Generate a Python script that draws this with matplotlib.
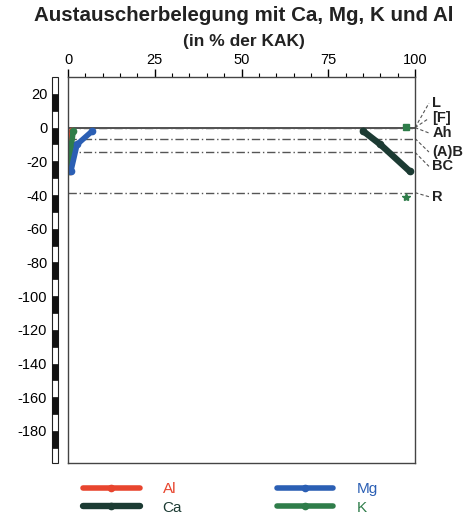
import matplotlib
matplotlib.use('Agg')
import matplotlib.pyplot as plt
import matplotlib.transforms as mtransforms
from matplotlib.patches import Rectangle

plt.rcParams['font.family'] = ['Liberation Sans', 'DejaVu Sans']
plt.rcParams['axes.unicode_minus'] = False

# depth of sample points (cm) and values in % of KAK
depth = [-2, -10, -26]
al = [1.2, 0.8, 0.5]
ca = [85.0, 90.0, 98.5]
mg = [7.0, 2.6, 0.8]
k = [1.5, 1.0, 0.3]
k_extra_x = [97.5, 97.5]
k_extra_y = [0.5, -41]

# horizon boundaries and labels
bounds = [0, -6.5, -14.7, -38.6]
hor_labels = ['L', '[F]', 'Ah', '(A)B', 'BC', 'R']
hor_label_y = [14.5, 5.5, -3.2, -14.5, -23, -41]
hor_from_y = [0, 0, 0, -6.5, -14.7, -38.6]

xticks = [0, 25, 50, 75, 100]
yticks = list(range(20, -181, -20))

c_al = '#e8452e'
c_ca = '#1c3b33'
c_mg = '#2b5fb4'
c_k = '#2f7d4a'
c_grid = '#555555'

fig = plt.figure(figsize=(4.69, 5.16), dpi=100)
ax = fig.add_axes([0.145, 0.1027, 0.740, 0.748])

ax.set_xlim(0, 100)
ax.set_ylim(-199, 30)

# horizon lines
ax.axhline(0, color='#333333', lw=1.2)
for b in bounds:
    ax.axhline(b, color=c_grid, lw=1.0, ls=(0, (6, 2, 1, 2)))

lw = 4.0
ms = 4.5
h_al, = ax.plot(al, depth, color=c_al, lw=lw, marker='o', ms=ms, solid_capstyle='round')
h_k, = ax.plot(k, depth, color=c_k, lw=lw, marker='o', ms=ms, solid_capstyle='round')
h_mg, = ax.plot(mg, depth, color=c_mg, lw=lw, marker='o', ms=ms, solid_capstyle='round')
h_ca, = ax.plot(ca, depth, color=c_ca, lw=4.6, marker='o', ms=ms, solid_capstyle='round')
ax.plot(k_extra_x[:1], k_extra_y[:1], ls='none', marker='s', ms=4, color=c_k)
ax.plot(k_extra_x[1:], k_extra_y[1:], ls='none', marker='*', ms=6, color=c_k)

# horizon labels with leader lines
for lab, ly, fy in zip(hor_labels, hor_label_y, hor_from_y):
    ax.plot([100, 104], [fy, ly], color=c_grid, lw=0.8, ls=(0, (3, 2)), clip_on=False)
    ax.text(105, ly, lab, fontsize=10.5, fontweight='bold', color='#222222',
            va='center', ha='left', clip_on=False)

# x axis on top
ax.xaxis.tick_top()
ax.set_xticks(xticks)
ax.set_xticks(range(0, 101, 5), minor=True)
ax.tick_params(axis='x', which='major', direction='out', length=6, width=1, labelsize=10.5, pad=1)
ax.tick_params(axis='x', which='minor', direction='out', length=3, width=0.8)
ax.tick_params(axis='x', bottom=False, which='both')

# y axis: labels only, depth strip between labels and axes
ax.set_yticks(yticks)
ax.set_yticklabels([str(v) for v in yticks])
ax.tick_params(axis='y', length=0, pad=15, labelsize=10.5)

for s in ax.spines.values():
    s.set_color('#444444')
    s.set_linewidth(1.0)

trans = mtransforms.blended_transform_factory(ax.transAxes, ax.transData)
sx0, sw = -0.046, 0.017
ax.add_patch(Rectangle((sx0, -199), sw, 229, transform=trans, facecolor='white',
                       edgecolor='#222222', lw=0.8, clip_on=False))
for top in range(20, -181, -20):
    ax.add_patch(Rectangle((sx0, top - 10), sw, 10, transform=trans, facecolor='#111111',
                           edgecolor='#111111', lw=0.5, clip_on=False))

fig.text(0.52, 0.970, 'Austauscherbelegung mit Ca, Mg, K und Al', ha='center', va='center',
         fontsize=14.8, fontweight='bold', color='#222222')
fig.text(0.52, 0.920, '(in % der KAK)', ha='center', va='center',
         fontsize=12.5, fontweight='bold', color='#222222')

fig.legend([h_al, h_ca, h_mg, h_k], ['Al', 'Ca', 'Mg', 'K'], ncol=2, frameon=False,
           loc='lower left', bbox_to_anchor=(0.148, -0.024), fontsize=11,
           handlelength=3.7, handletextpad=1.5, columnspacing=6.2,
           labelspacing=0.3, labelcolor='linecolor')

fig.savefig('out.png', dpi=100)
